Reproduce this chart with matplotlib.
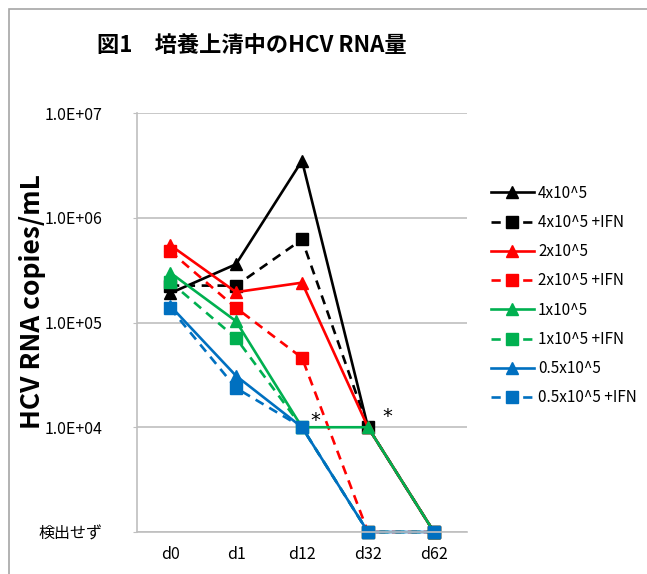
import matplotlib
matplotlib.use("Agg")
from matplotlib import pyplot as plt
from matplotlib.patches import Rectangle

plt.rcParams["font.family"] = ["Noto Sans CJK JP", "DejaVu Sans"]

days = ["d0", "d1", "d12", "d32", "d62"]
nd = 1e3  # "検出せず" plotted at the bottom of the axis

s4 = [1.9e5, 3.6e5, 3.5e6, 1e4, nd]
s4_ifn = [2.25e5, 2.25e5, 6.2e5, 1e4, nd]
s2 = [5.5e5, 1.95e5, 2.4e5, 1e4, nd]
s2_ifn = [4.8e5, 1.38e5, 4.6e4, nd, nd]
s1 = [3.0e5, 1.03e5, 1e4, 1e4, nd]
s1_ifn = [2.45e5, 7.1e4, 1e4, nd, nd]
s05 = [1.45e5, 3.1e4, 1e4, nd, nd]
s05_ifn = [1.38e5, 2.37e4, 1e4, nd, nd]

labels = ["4x10^5", "4x10^5 +IFN", "2x10^5", "2x10^5 +IFN",
          "1x10^5", "1x10^5 +IFN", "0.5x10^5", "0.5x10^5 +IFN"]
series = [s4, s4_ifn, s2, s2_ifn, s1, s1_ifn, s05, s05_ifn]
colors = ["black", "black", "#FF0000", "#FF0000",
          "#00B050", "#00B050", "#0070C0", "#0070C0"]

ytick_vals = [1e3, 1e4, 1e5, 1e6, 1e7]
ytick_labels = ["検出せず", "1.0E+04", "1.0E+05", "1.0E+06", "1.0E+07"]

fig = plt.figure(figsize=(6.47, 5.74), dpi=100)
ax = fig.add_axes([137 / 647, 1 - 532 / 574, 330 / 647, 419 / 574])

x = list(range(len(days)))
for i, (vals, lab, c) in enumerate(zip(series, labels, colors)):
    if i % 2 == 0:
        ax.plot(x, vals, "-", color=c, lw=1.9, marker="^", ms=9, label=lab,
                clip_on=False)
    else:
        ax.plot(x, vals, color=c, lw=1.9, ls=(0, (3.5, 2.5)), marker="s",
                ms=8.5, label=lab, clip_on=False)

ax.set_yscale("log")
ax.set_ylim(1e3, 1e7)
ax.set_xlim(-0.5, 4.5)
ax.set_yticks(ytick_vals)
ax.set_yticklabels(ytick_labels)
ax.minorticks_off()
ax.set_xticks(x)
ax.set_xticklabels(days)
ax.tick_params(axis="y", length=3, color="#BFBFBF", pad=22, labelsize=11.5)
ax.tick_params(axis="x", length=0, pad=10, labelsize=11.5)
ax.grid(axis="y", color="#BFBFBF", lw=1.2)
ax.set_axisbelow(True)
for side in ["top", "right"]:
    ax.spines[side].set_visible(False)
for side in ["left", "bottom"]:
    ax.spines[side].set_color("#BFBFBF")
    ax.spines[side].set_linewidth(1.2)

ax.annotate("*", (2, 1e4), xytext=(6, 1), textcoords="offset points",
            fontsize=14, family="DejaVu Sans")
ax.annotate("*", (3, 1e4), xytext=(10, 4), textcoords="offset points",
            fontsize=14, family="DejaVu Sans")

fig.legend(loc="upper left", bbox_to_anchor=(477 / 647, 1 - 171 / 574),
           frameon=False, fontsize=11, handlelength=2.8, handletextpad=0.3,
           labelspacing=0.8)

fig.text(252 / 647, 1 - 45 / 574, "図1　培養上清中のHCV RNA量", fontsize=16,
         fontweight="bold", ha="center", va="center")
fig.text(33 / 647, 1 - 302 / 574, "HCV RNA copies/mL", fontsize=19,
         fontweight="bold", rotation=90, ha="center", va="center")

fig.patches.append(Rectangle((9 / 647, -0.1), 1.2, 1 - 9 / 574 + 0.1,
                             transform=fig.transFigure, fill=False,
                             edgecolor="#A6A6A6", lw=1.2))

fig.savefig("out.png", dpi=100)
